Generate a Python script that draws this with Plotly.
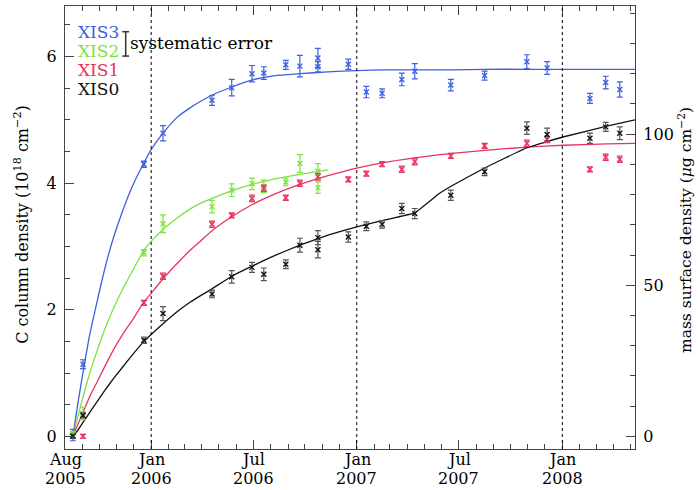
import plotly.graph_objects as go

# ---------------- data ----------------
obs_xis3 = ["2005-08-15", "2005-09-02", "2005-12-19", "2006-01-22", "2006-04-19", "2006-05-24",
            "2006-06-29", "2006-07-20", "2006-08-28", "2006-09-22", "2006-10-24", "2006-10-24",
            "2006-12-17", "2007-01-18", "2007-02-15", "2007-03-22", "2007-04-14", "2007-06-17",
            "2007-08-16", "2007-10-30", "2007-12-05", "2008-02-19", "2008-03-18", "2008-04-12"]
val_xis3 = [0.02, 1.14, 4.30, 4.79, 5.31, 5.51, 5.73, 5.74, 5.87, 5.85, 5.98, 5.84,
            5.88, 5.44, 5.42, 5.64, 5.77, 5.55, 5.70, 5.92, 5.82, 5.34, 5.59, 5.48]
err_xis3 = [0.09, 0.07, 0.05, 0.12, 0.08, 0.13, 0.13, 0.10, 0.07, 0.17, 0.15, 0.08,
            0.08, 0.09, 0.07, 0.10, 0.12, 0.09, 0.07, 0.11, 0.10, 0.08, 0.10, 0.12]

obs_xis2 = ["2005-08-15", "2005-09-02", "2005-12-19", "2006-01-22", "2006-04-19", "2006-05-24",
            "2006-06-29", "2006-07-20", "2006-08-28", "2006-09-22", "2006-10-24", "2006-10-24"]
val_xis2 = [0.03, 0.36, 2.90, 3.36, 3.63, 3.89, 3.99, 3.95, 4.02, 4.31, 4.19, 3.93]
err_xis2 = [0.05, 0.10, 0.05, 0.14, 0.10, 0.10, 0.09, 0.10, 0.06, 0.14, 0.12, 0.09]

obs_xis1 = ["2005-09-02", "2005-12-19", "2006-01-22", "2006-04-19", "2006-05-24", "2006-06-29",
            "2006-07-20", "2006-08-28", "2006-09-22", "2006-10-24", "2006-12-17", "2007-01-18",
            "2007-02-15", "2007-03-22", "2007-04-14", "2007-06-17", "2007-08-16", "2007-10-30",
            "2007-12-05", "2008-02-19", "2008-03-18", "2008-04-12"]
val_xis1 = [0.00, 2.11, 2.53, 3.35, 3.49, 3.76, 3.92, 3.77, 4.00, 4.10, 4.06, 4.15,
            4.30, 4.22, 4.34, 4.43, 4.59, 4.63, 4.69, 4.22, 4.41, 4.38]
err_xis1 = [0.03, 0.04, 0.05, 0.05, 0.04, 0.05, 0.05, 0.04, 0.05, 0.05, 0.04, 0.04,
            0.04, 0.05, 0.05, 0.04, 0.04, 0.05, 0.05, 0.04, 0.05, 0.05]

obs_xis0 = ["2005-08-15", "2005-09-02", "2005-12-19", "2006-01-22", "2006-04-19", "2006-05-24",
            "2006-06-29", "2006-07-20", "2006-08-28", "2006-09-22", "2006-10-24", "2006-10-24",
            "2006-12-17", "2007-01-18", "2007-02-15", "2007-03-22", "2007-04-14", "2007-06-17",
            "2007-08-16", "2007-10-30", "2007-12-05", "2008-02-19", "2008-03-18", "2008-04-12"]
val_xis0 = [0.00, 0.33, 1.52, 1.94, 2.25, 2.52, 2.67, 2.56, 2.72, 3.02, 3.14, 2.95,
            3.15, 3.32, 3.35, 3.60, 3.52, 3.81, 4.18, 4.87, 4.77, 4.71, 4.89, 4.79]
err_xis0 = [0.03, 0.04, 0.05, 0.11, 0.06, 0.10, 0.08, 0.10, 0.07, 0.11, 0.11, 0.13,
            0.08, 0.07, 0.06, 0.08, 0.08, 0.08, 0.06, 0.10, 0.10, 0.08, 0.07, 0.10]

# model curves
curve_dates = ["2005-08-15", "2005-08-24", "2005-09-02", "2005-09-14", "2005-09-27", "2005-10-11",
               "2005-10-25", "2005-11-10", "2005-11-28", "2005-12-19", "2006-01-01", "2006-01-22",
               "2006-02-16", "2006-03-11", "2006-03-29", "2006-04-19", "2006-05-24", "2006-06-29",
               "2006-08-09", "2006-09-22", "2006-11-11", "2007-01-01", "2007-02-20", "2007-04-14",
               "2007-05-28", "2007-06-19", "2007-08-16", "2007-10-30", "2008-01-02", "2008-03-20",
               "2008-05-09"]
curve_xis3 = [0.0, 0.53, 1.01, 1.61, 2.13, 2.66, 3.11, 3.53, 3.94, 4.32, 4.53, 4.79,
              5.04, 5.19, 5.29, 5.39, 5.52, 5.63, 5.70, 5.73, 5.76, 5.78, 5.79, 5.79,
              5.79, 5.79, 5.80, 5.80, 5.80, 5.80, 5.80]
curve_xis2 = [0.0, 0.32, 0.62, 1.00, 1.35, 1.70, 2.00, 2.30, 2.60, 2.94, 3.08, 3.27,
              3.45, 3.59, 3.68, 3.76, 3.88, 3.98, 4.07, 4.14, 4.21]
curve_xis1 = [0.0, 0.19, 0.38, 0.63, 0.86, 1.11, 1.35, 1.59, 1.83, 2.12, 2.26, 2.49,
              2.73, 2.94, 3.08, 3.25, 3.47, 3.66, 3.83, 3.98, 4.12, 4.24, 4.33, 4.40,
              4.45, 4.47, 4.52, 4.57, 4.60, 4.62, 4.63]
curve_xis0 = [0.0, 0.10, 0.22, 0.38, 0.55, 0.73, 0.90, 1.08, 1.28, 1.50, 1.61, 1.78,
              1.97, 2.12, 2.22, 2.33, 2.53, 2.69, 2.86, 3.02, 3.18, 3.31, 3.42, 3.53,
              3.84, 3.96, 4.24, 4.56, 4.73, 4.90, 5.00]

year_marks = ["2006-01-01", "2007-01-01", "2008-01-01"]
tick_dates = ["2005-08-01", "2006-01-01", "2006-07-01", "2007-01-01", "2007-07-01", "2008-01-01"]
tick_months = ["Aug", "Jan", "Jul", "Jan", "Jul", "Jan"]
tick_years = ["2005", "2006", "2006", "2007", "2007", "2008"]
x_range = ["2005-08-01", "2008-05-09"]
y_range = [-0.2, 6.8]
mass_per_column = 20.94  # right axis scale factor (μg cm^-2 per 10^18 cm^-2)

# ---------------- styling ----------------
BLUE = "#3d5fe0"
GREEN = "#7ee23e"
RED = "#e8335e"
BLACK = "#111111"
FONT = "DejaVu Serif"

fig = go.Figure()

series = [
    ("XIS3", obs_xis3, val_xis3, err_xis3, curve_dates, curve_xis3, BLUE, BLUE, 0.6),
    ("XIS2", obs_xis2, val_xis2, err_xis2, curve_dates[:len(curve_xis2)], curve_xis2, GREEN, GREEN, 0.6),
    ("XIS1", obs_xis1, val_xis1, err_xis1, curve_dates, curve_xis1, RED, RED, 0.6),
    ("XIS0", obs_xis0, val_xis0, err_xis0, curve_dates, curve_xis0, BLACK, "#555555", 0.25),
]

for name, ox, oy, oe, cx, cy, col, ecol, sm in series:
    fig.add_trace(go.Scatter(
        x=cx, y=cy, mode="lines", line=dict(color=col, width=1.3, shape="spline", smoothing=sm),
        showlegend=False, hoverinfo="skip"))
for name, ox, oy, oe, cx, cy, col, ecol, sm in series:
    fig.add_trace(go.Scatter(
        x=ox, y=oy, mode="markers", name=name,
        marker=dict(symbol="x-thin", size=5, line=dict(color=col, width=1.4), color=col),
        error_y=dict(type="data", array=oe, visible=True, color=ecol, thickness=1.2, width=3),
        showlegend=False))

# invisible trace to attach the right axis
fig.add_trace(go.Scatter(x=[x_range[0]], y=[0], yaxis="y2", mode="markers",
                         marker=dict(opacity=0), showlegend=False, hoverinfo="skip"))

for d in year_marks:
    fig.add_vline(x=d, line=dict(color="black", width=1, dash="dot"))

# x tick labels (two lines)
for d, m, yv in zip(tick_dates, tick_months, tick_years):
    fig.add_annotation(text=m, x=d, xref="x", yref="paper", y=-0.0248, yanchor="middle",
                       xanchor="center", showarrow=False, font=dict(family=FONT, size=16))
    fig.add_annotation(text=yv, x=d, xref="x", yref="paper", y=-0.0677, yanchor="middle",
                       xanchor="center", showarrow=False, font=dict(family=FONT, size=16))

# axis titles
fig.add_annotation(text="C column density (10<sup>18</sup> cm<sup>−2</sup>)", xref="paper", yref="paper",
                   x=-0.0754, y=0.506, textangle=-90, showarrow=False, xanchor="center", yanchor="middle",
                   font=dict(family=FONT, size=16))
fig.add_annotation(text="mass surface density (<i>μ</i>g cm<sup>−2</sup>)", xref="paper", yref="paper",
                   x=1.0875, y=0.494, textangle=-90, showarrow=False, xanchor="center", yanchor="middle",
                   font=dict(family=FONT, size=15.5))

# legend texts
legend_items = [("XIS3", BLUE), ("XIS2", GREEN), ("XIS1", RED), ("XIS0", BLACK)]
for i, (txt, col) in enumerate(legend_items):
    fig.add_annotation(text=txt, xref="paper", yref="paper", x=0.019, y=0.941 - i * 0.0427,
                       xanchor="left", yanchor="middle", showarrow=False,
                       font=dict(family=FONT, size=17, color=col))
fig.add_annotation(text="systematic error", xref="paper", yref="paper", x=0.1105, y=0.916,
                   xanchor="left", yanchor="middle", showarrow=False,
                   font=dict(family=FONT, size=17, color="black"))
# systematic error bar glyph
bx, by0, by1, cw = 0.1065, 0.887, 0.942, 0.006
fig.add_shape(type="line", xref="paper", yref="paper", x0=bx, x1=bx, y0=by0, y1=by1,
              line=dict(color="#333333", width=1.5))
for yy in (by0, by1):
    fig.add_shape(type="line", xref="paper", yref="paper", x0=bx - cw, x1=bx + cw, y0=yy, y1=yy,
                  line=dict(color="#333333", width=1.5))

axis_col = "#444444"
fig.update_layout(
    width=698, height=490, autosize=False,
    margin=dict(l=65, r=63, t=6, b=41, autoexpand=False),
    paper_bgcolor="white", plot_bgcolor="white",
    font=dict(family=FONT, size=16, color="black"),
    xaxis=dict(type="date", range=x_range, tickmode="array", tickvals=tick_dates,
               showticklabels=False, automargin=False,
               ticks="inside", ticklen=9, tickwidth=1, tickcolor=axis_col,
               showline=True, linecolor=axis_col, linewidth=1.2, mirror="ticks",
               showgrid=False, zeroline=False,
               minor=dict(dtick="M1", tick0="2005-08-01", ticks="inside", ticklen=5,
                          tickcolor=axis_col, showgrid=False)),
    yaxis=dict(range=y_range, tickmode="array", tickvals=[0, 2, 4, 6], automargin=False,
               ticks="inside", ticklen=9, tickcolor=axis_col, ticklabelstandoff=4,
               showline=True, linecolor=axis_col, linewidth=1.2, mirror=False,
               showgrid=False, zeroline=False, tickfont=dict(family=FONT, size=16),
               minor=dict(dtick=0.5, ticks="inside", ticklen=5, tickcolor=axis_col, showgrid=False)),
    yaxis2=dict(range=[y_range[0] * mass_per_column, y_range[1] * mass_per_column],
                overlaying="y", side="right", tickmode="array", tickvals=[0, 50, 100],
                automargin=False, ticklabelstandoff=4,
                ticks="inside", ticklen=9, tickcolor=axis_col,
                showline=True, linecolor=axis_col, linewidth=1.2,
                showgrid=False, zeroline=False, tickfont=dict(family=FONT, size=16),
                minor=dict(dtick=10, ticks="inside", ticklen=5, tickcolor=axis_col, showgrid=False)),
)

fig.write_html("out.html", config={"displayModeBar": False},
               post_script="document.body.style.margin='0px';")
